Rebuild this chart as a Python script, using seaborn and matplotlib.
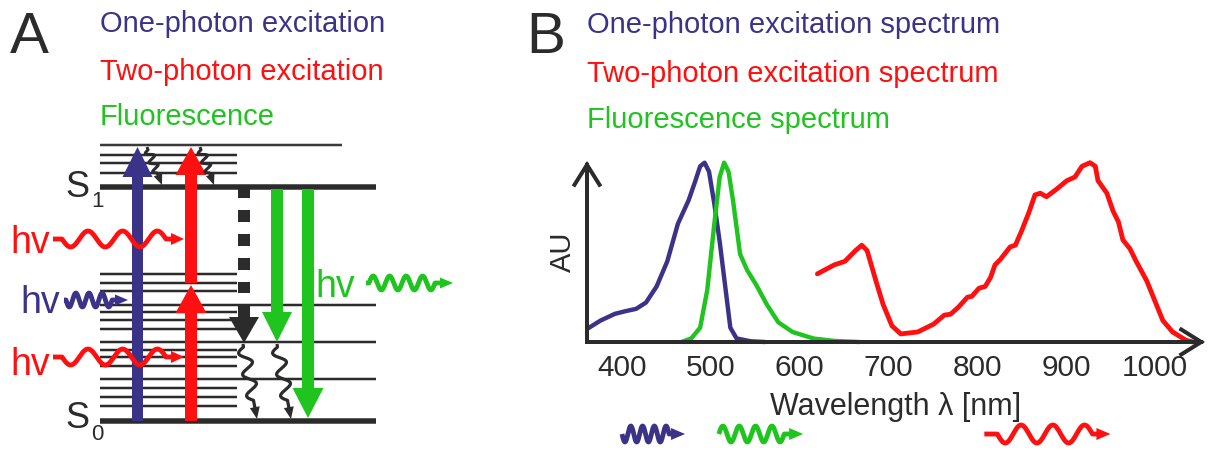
import numpy as np
import matplotlib
matplotlib.use("Agg")
import matplotlib.pyplot as plt
import seaborn as sns
from matplotlib.patches import FancyArrow, Polygon

# ---------------- data ----------------
blue_wl = [361, 376, 392, 404, 416, 427, 439, 451, 463, 475, 482, 488, 493, 498, 504, 510, 516, 522, 529, 545, 561]
blue_au = [0.074, 0.12, 0.157, 0.172, 0.185, 0.22, 0.31, 0.45, 0.66, 0.79, 0.89, 0.98, 1.0, 0.95, 0.77, 0.56, 0.32, 0.08, 0.02, 0.004, 0.0]

green_wl = [467, 478, 488, 496, 504, 510, 515, 520, 525, 533, 541, 551, 563, 576, 592, 616, 639, 667]
green_au = [0.0, 0.02, 0.08, 0.29, 0.66, 0.92, 1.0, 0.95, 0.79, 0.49, 0.40, 0.32, 0.21, 0.11, 0.056, 0.019, 0.006, 0.0]

red_wl = [620, 639, 651, 663, 670, 676, 686, 694, 704, 714, 733, 751, 763, 770, 779, 789, 794, 802,
          809, 815, 820, 826, 837, 843, 850, 858, 865, 871, 878, 890, 901, 910, 918, 927, 933, 936,
          946, 953, 959, 964, 972, 979, 991, 1000, 1009, 1020, 1035, 1043]
red_au = [0.38, 0.43, 0.45, 0.51, 0.54, 0.51, 0.34, 0.21, 0.09, 0.045, 0.056, 0.10, 0.15, 0.155, 0.195, 0.25, 0.255, 0.30,
          0.31, 0.36, 0.43, 0.46, 0.53, 0.54, 0.62, 0.72, 0.82, 0.83, 0.81, 0.855, 0.90, 0.92, 0.98, 1.0, 0.98, 0.90,
          0.83, 0.73, 0.67, 0.57, 0.52, 0.45, 0.34, 0.23, 0.12, 0.056, 0.01, 0.0]

tick_values = [400, 500, 600, 700, 800, 900, 1000]
tick_labels = ["400", "500", "600", "700", "800", "900", "1000"]
wl_range = (360.6, 1056.5)

# photon symbols under the spectra (start, end wavelength)
photon_marks_wl = [(400, 471), (509, 604), (808, 950)]

titles_A = ["One-photon excitation", "Two-photon excitation", "Fluorescence"]
titles_B = ["One-photon excitation spectrum", "Two-photon excitation spectrum", "Fluorescence spectrum"]

# ---------------- style ----------------
BLUE = "#3b3388"
RED = "#ff1010"
GREEN = "#1fc41f"
DARK = "#2b2b2b"
PT = 0.72  # points per pixel at 100 dpi

sns.set_theme(style="white")
plt.rcParams["font.family"] = ["Liberation Sans", "DejaVu Sans"]

fig = plt.figure(figsize=(12.1, 4.5), dpi=100)
ax0 = fig.add_axes([0, 0, 1, 1])
ax0.set_xlim(0, 1210)
ax0.set_ylim(450, 0)
ax0.axis("off")


def wavy(ax, p0, p1, nhalf, amp, color, lw, lead=0.0, tail=0.0, hl=10, hw=10, z=6, sign=1):
    p0 = np.array(p0, float)
    p1 = np.array(p1, float)
    d = p1 - p0
    L = np.hypot(*d)
    u = d / L
    n = np.array([-u[1], u[0]])
    body = L - hl
    s = np.linspace(0, body, 600)
    wl = body - lead - tail
    t = np.clip((s - lead) / wl, 0, 1)
    off = sign * amp * np.sin(np.pi * nhalf * t)
    pts = p0[None, :] + s[:, None] * u[None, :] + off[:, None] * n[None, :]
    ax.plot(pts[:, 0], pts[:, 1], color=color, lw=lw, solid_capstyle="butt",
            solid_joinstyle="round", zorder=z)
    base = p0 + u * (body - 1)
    tri = [p1, base + n * hw / 2, base - n * hw / 2]
    ax.add_patch(Polygon(tri, closed=True, facecolor=color, edgecolor="none", zorder=z))


# ---------------- panel A : Jablonski diagram ----------------
short_levels = [155, 163, 173, 274, 283, 291, 312, 320, 329, 350, 357, 366, 388, 397, 406]
long_levels = [305, 342, 379]
top_level = 145
S_levels = [187, 421]

ax0.hlines(short_levels, 100, 237, color=DARK, lw=2.5 * PT, zorder=1)
ax0.hlines(long_levels, 100, 376, color=DARK, lw=2.5 * PT, zorder=1)
ax0.hlines([top_level], 100, 342, color="#3a3a3a", lw=2.5 * PT, zorder=1)
ax0.hlines(S_levels, 100, 376, color=DARK, lw=5.5 * PT, zorder=2)

# excitation arrows
ax0.add_patch(FancyArrow(137.5, 421, 0, -274, width=11, head_width=30, head_length=30,
                         length_includes_head=True, color=BLUE, lw=0, zorder=3))
ax0.add_patch(FancyArrow(191, 421, 0, -136, width=12, head_width=31, head_length=28,
                         length_includes_head=True, color=RED, lw=0, zorder=3))
ax0.add_patch(FancyArrow(191, 283, 0, -136, width=12, head_width=31, head_length=28,
                         length_includes_head=True, color=RED, lw=0, zorder=3))
# non-radiative (dotted) + black arrow
ax0.plot([244, 244], [186, 293], color=DARK, lw=12 * PT, dashes=(1, 1), zorder=3)
ax0.add_patch(FancyArrow(244, 305, 0, 38, width=12, head_width=30, head_length=26,
                         length_includes_head=True, color=DARK, lw=0, zorder=3))
# fluorescence arrows
ax0.add_patch(FancyArrow(277, 189, 0, 153, width=12, head_width=30, head_length=30,
                         length_includes_head=True, color=GREEN, lw=0, zorder=3))
ax0.add_patch(FancyArrow(308, 189, 0, 229, width=12, head_width=31, head_length=30,
                         length_includes_head=True, color=GREEN, lw=0, zorder=3))

# vibrational relaxation squiggles
wavy(ax0, (147, 147), (162, 185), 5, 4, DARK, 3.0 * PT, lead=3, tail=3, hl=10, hw=9, z=4)
wavy(ax0, (200, 147), (214, 185), 5, 4, DARK, 3.0 * PT, lead=3, tail=3, hl=10, hw=9, z=4)
wavy(ax0, (243, 344), (257, 419), 5, 6, DARK, 3.2 * PT, lead=3, tail=8, hl=11, hw=10, z=4)
wavy(ax0, (277, 344), (291, 419), 5, 6, DARK, 3.2 * PT, lead=3, tail=8, hl=11, hw=10, z=4)

# incoming / outgoing photons
PHOTON_LW = 4.8 * PT
wavy(ax0, (53, 239), (184, 239), 6, 8, RED, PHOTON_LW, lead=9, tail=6, hl=12, hw=12, z=6)
wavy(ax0, (53, 357), (184, 357), 6, 8, RED, PHOTON_LW, lead=9, tail=6, hl=12, hw=12, z=6)
wavy(ax0, (64, 300), (128, 300), 7, 7, BLUE, PHOTON_LW, lead=2, tail=4, hl=12, hw=11, z=6)
wavy(ax0, (366, 283), (453, 283), 8, 7, GREEN, PHOTON_LW, lead=3, tail=6, hl=12, hw=11, z=6, sign=-1)

hv_font = 27
ax0.text(10, 253, "hv", color=RED, fontsize=hv_font, va="baseline", ha="left")
ax0.text(20, 313, "hv", color=BLUE, fontsize=hv_font, va="baseline", ha="left")
ax0.text(10, 375, "hv", color=RED, fontsize=hv_font, va="baseline", ha="left")
ax0.text(315, 297, "hv", color=GREEN, fontsize=hv_font, va="baseline", ha="left")

ax0.text(65, 197, "S", color=DARK, fontsize=26, va="baseline", ha="left")
ax0.text(91, 207, "1", color=DARK, fontsize=16, va="baseline", ha="left")
ax0.text(65, 428, "S", color=DARK, fontsize=26, va="baseline", ha="left")
ax0.text(91, 440, "0", color=DARK, fontsize=16, va="baseline", ha="left")

# panel letters and titles
ax0.text(10, 53, "A", color=DARK, fontsize=42, va="baseline", ha="left")
ax0.text(526, 53, "B", color=DARK, fontsize=42, va="baseline", ha="left")
title_colors = [BLUE, RED, GREEN]
for txt, c, yb in zip(titles_A, title_colors, [32, 80, 125]):
    ax0.text(100, yb, txt, color=c, fontsize=21, va="baseline", ha="left")
for txt, c, yb in zip(titles_B, title_colors, [33, 82, 128]):
    ax0.text(587, yb, txt, color=c, fontsize=21, va="baseline", ha="left")

# ---------------- panel B : spectra ----------------
axB = fig.add_axes([587 / 1210, 1 - 342 / 450, (1205 - 587) / 1210, (342 - 161) / 450])
axB.patch.set_alpha(0)
sns.lineplot(x=blue_wl, y=blue_au, ax=axB, color=BLUE, lw=4.4 * PT, sort=False, legend=False)
sns.lineplot(x=green_wl, y=green_au, ax=axB, color=GREEN, lw=4.4 * PT, sort=False, legend=False)
sns.lineplot(x=red_wl, y=red_au, ax=axB, color=RED, lw=4.8 * PT, sort=False, legend=False)
for ln in axB.lines:
    ln.set_clip_on(False)
    ln.set_solid_joinstyle("round")
    ln.set_solid_capstyle("round")

axB.set_xlim(*wl_range)
axB.set_ylim(0, 181 / 179.3)
for sp in axB.spines.values():
    sp.set_visible(False)
axB.grid(False)
axB.set_yticks([])
axB.set_xticks(tick_values)
axB.set_xticklabels(tick_labels)
axB.tick_params(axis="x", length=0, pad=9, labelsize=21.5, labelcolor=DARK)
axB.set_xlabel("Wavelength λ [nm]", fontsize=22, color=DARK, labelpad=7)
axB.set_ylabel("AU", fontsize=21, color=DARK, labelpad=7)

arrow_style = "->,head_length=1.44,head_width=0.9"
for xy in [(0, 1), (1, 0)]:
    axB.annotate("", xy=xy, xytext=(0, 0), xycoords="axes fraction",
                 arrowprops=dict(arrowstyle=arrow_style, lw=4 * PT, color=DARK,
                                 shrinkA=0, shrinkB=0, mutation_scale=10,
                                 capstyle="projecting", joinstyle="miter"),
                 zorder=10)

# photon symbols beneath the spectra, positioned on the wavelength axis
mark_cfg = [
    (BLUE, dict(nhalf=8, amp=8, lead=0, tail=3, sign=1)),
    (GREEN, dict(nhalf=8, amp=8, lead=0, tail=6, sign=-1)),
    (RED, dict(nhalf=6, amp=9, lead=13, tail=5, sign=1)),
]
for (w0, w1), (c, cfg) in zip(photon_marks_wl, mark_cfg):
    x0 = axB.transData.transform((w0, 0))[0]
    x1 = axB.transData.transform((w1, 0))[0]
    wavy(ax0, (x0, 434), (x1, 434), cfg["nhalf"], cfg["amp"], c, PHOTON_LW,
         lead=cfg["lead"], tail=cfg["tail"], hl=13, hw=12, z=6, sign=cfg["sign"])

fig.savefig("out.png", dpi=100)
